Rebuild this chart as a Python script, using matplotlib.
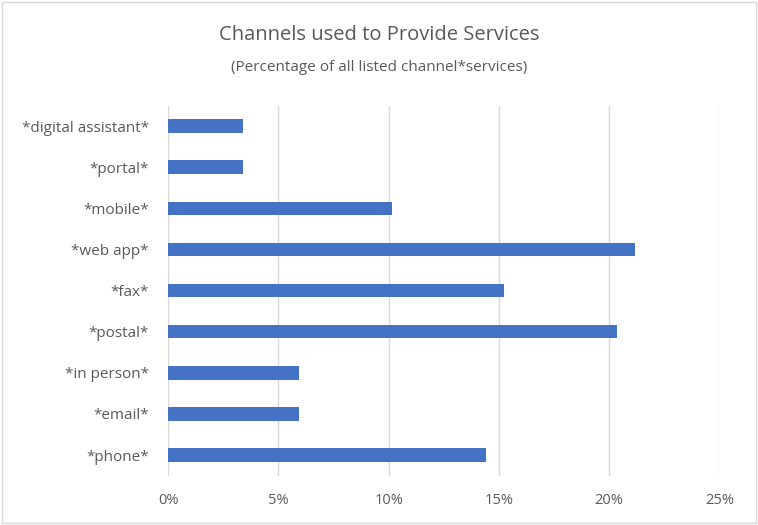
import matplotlib.pyplot as plt
from matplotlib.ticker import PercentFormatter
from matplotlib.patches import Rectangle

channels = ["*phone*", "*email*", "*in person*", "*postal*", "*fax*",
            "*web app*", "*mobile*", "*portal*", "*digital assistant*"]
share = [14.41, 5.93, 5.93, 20.34, 15.25, 21.19, 10.17, 3.39, 3.39]
xticks = [0, 5, 10, 15, 20, 25]

plt.rcParams['font.family'] = ['Open Sans', 'DejaVu Sans']

fig = plt.figure(figsize=(7.58, 5.25), dpi=100)
ax = fig.add_axes([0.222, 0.094, 0.727, 0.705])

ax.barh(channels, share, height=0.33, color="#4472c4", zorder=3)
ax.set_xlim(0, 25)
ax.set_ylim(-0.5, len(channels) - 0.5)
ax.set_xticks(xticks)
ax.xaxis.set_major_formatter(PercentFormatter(decimals=0))
ax.grid(axis="x", color="#d9d9d9", linewidth=1, zorder=0)
for s in ax.spines.values():
    s.set_visible(False)
ax.tick_params(length=0, colors="#595959")
ax.tick_params(axis="x", pad=12.5, labelsize=10.5)
ax.tick_params(axis="y", pad=14, labelsize=11)

fig.text(0.5, 0.934, "Channels used to Provide Services", ha="center", va="center",
         fontsize=14.5, color="#595959")
fig.text(0.5, 0.872, "(Percentage of all listed channel*services)", ha="center", va="center",
         fontsize=11, color="#595959")

# chart border
fig.patches.append(Rectangle((0.002, 0.003), 0.996, 0.994, transform=fig.transFigure,
                             fill=False, edgecolor="#d9d9d9", linewidth=1))

fig.savefig("out.png", dpi=100)
